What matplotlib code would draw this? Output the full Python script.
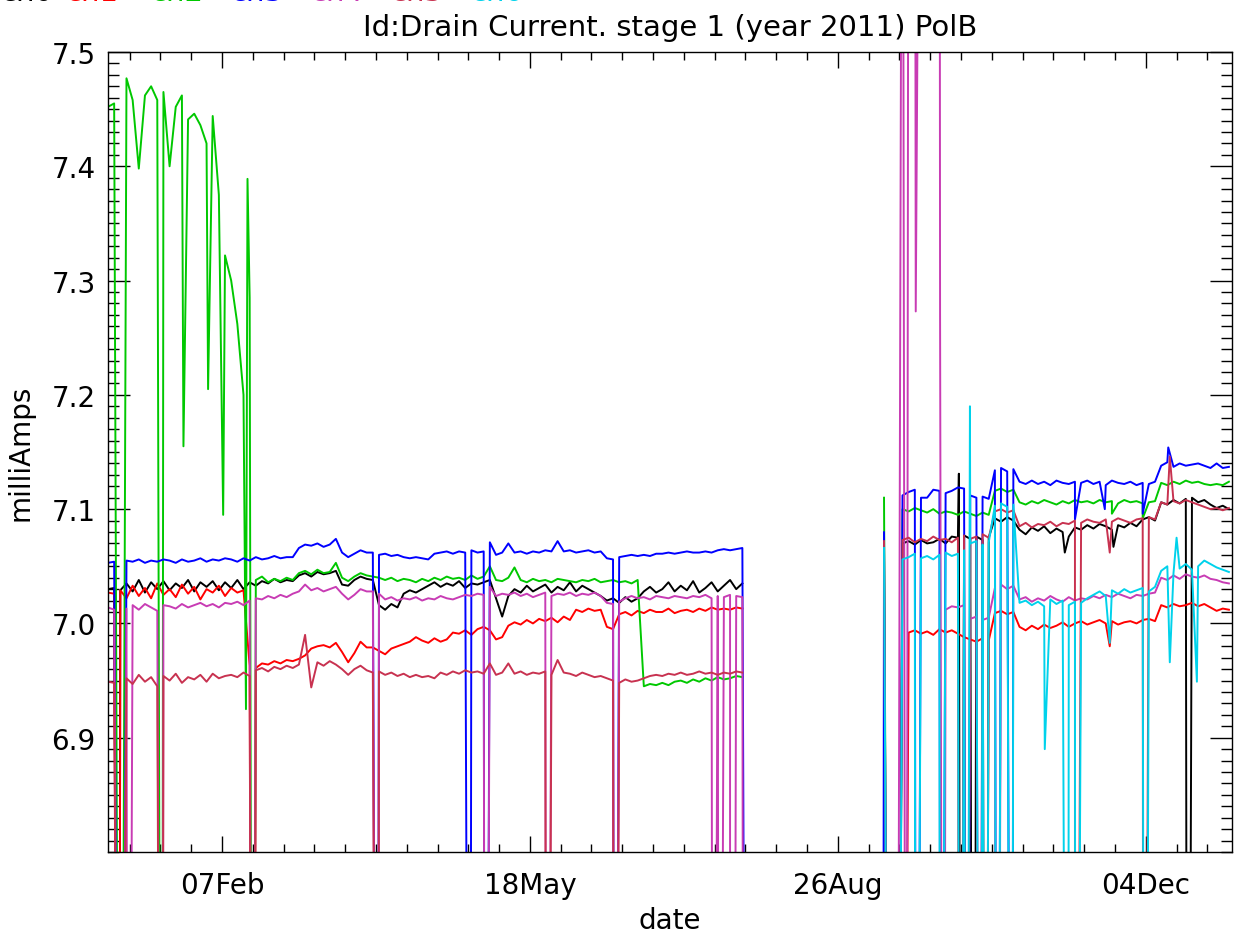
import numpy as np
import matplotlib
matplotlib.use('Agg')
import matplotlib.pyplot as plt
from matplotlib.ticker import FixedLocator, MultipleLocator

# days counted from 01 Jan 2011, values are offsets from 7.000 mA in 1/1000 mA
# -999 = dropout below the plot range, 999 = above the plot range
days1 = np.arange(0, 207, 2)
days2 = np.arange(252, 365, 2)

names = ['ch0', 'ch1', 'ch2', 'ch3', 'ch4', 'ch5', 'ch6']
colors = ['#000000', '#ff0000', '#00c800', '#0000ff', '#c83cb4', '#c83250', '#00d2eb']

black_s1 = [30, 31, 29, 35, 28, 38, 27, 36, 30, 37,
            29, 35, 31, 38, 28, 36, 32, 37, 29, 36,
            31, 38, 30, 36, 33, 37, 35, 39, 36, 38,
            37, 42, 44, 41, 45, 43, 44, 46, 34, 33,
            38, 41, 39, 38, 16, 12, 17, 14, 26, 29,
            27, 30, 33, 36, 32, 35, 33, 37, 31, 35,
            34, 36, 38, 22, 6, 24, 30, 27, 33, 28,
            31, 34, 27, 32, 29, 36, 28, 33, 30, 27,
            24, 20, 22, 18, 23, 19, 22, 28, 32, 27,
            30, 36, 28, 33, 29, 37, 27, 31, 36, 28,
            33, 38, 30, 35]
black_s2 = [-999, -999, -999, 70, 72, 69, 73, 70, 71, 74,
            70, 76, 75, 77, 74, 76, 73, 75, 92, 89,
            93, 90, 82, 78, 84, 81, 85, 79, 83, 80,
            76, 84, 82, 86, 83, 87, 85, 82, 86, 84,
            88, 85, 91, 93, 90, 106, 104, 108, 105, 109,
            110, 106, 108, 104, 101, 103, 100]
black_spikes = [(3.5, -999), (276.3, 131), (277, -999), (281, -999), (285, -999),
                (310.7, 62), (326.5, 67), (350.6, -999)]

red_s1 = [27, 26, 29, 22, 33, 24, 31, 22, 35, 25,
          30, 23, 34, 26, 32, 21, 30, 27, 33, 24,
          31, 27, 29, -37, -39, -35, -36, -33, -35, -32,
          -33, -31, -28, -22, -20, -19, -21, -17, -25, -34,
          -26, -16, -21, -21, -24, -27, -22, -20, -18, -16,
          -12, -15, -17, -13, -16, -14, -8, -9, -6, -10,
          -5, -3, -6, -14, -12, -2, 1, -1, 3, 0,
          4, 2, 5, 1, 6, 3, 12, 10, 13, 11,
          12, -3, -5, 8, 10, 7, 11, 9, 12, 10,
          10, 13, 9, 11, 12, 10, 13, 11, 14, 12,
          13, 12, 14, 13]
red_s2 = [-999, -999, -999, -999, -8, -6, -9, -7, -10, -5,
          -8, -6, -9, -12, -14, -16, -13, -15, 9, 11,
          8, 10, -3, -6, -2, -5, -1, -4, -2, 1,
          -3, 0, 2, -1, 1, 3, 0, 2, -1, 1,
          2, 0, 3, 4, 2, 16, 14, 17, 15, 16,
          18, 15, 17, 14, 11, 13, 12]
red_spikes = [(3.5, -999), (47, -999), (284.7, -999), (325.3, -20)]

green_s1 = [452, 455, -999, 477, 458, 398, 462, 470, 458, 465,
            400, 452, 462, 441, 446, 436, 420, 444, 375, 322,
            300, 262, 200, 285, 38, 41, 36, 39, 37, 40,
            38, 44, 46, 43, 47, 44, 45, 53, 40, 37,
            41, 44, 42, 41, 40, 38, 40, 37, 39, 38,
            36, 39, 37, 40, 38, 41, 39, 40, 38, 42,
            39, 41, 50, 38, 37, 40, 49, 38, 36, 39,
            37, 38, 36, 39, 38, 37, 36, 38, 37, 39,
            36, 37, 38, 36, 37, 35, 38, -55, -53, -54,
            -52, -54, -51, -50, -52, -49, -51, -48, -50, -47,
            -49, -48, -46, -47]
green_s2 = [110, -999, -999, 100, 98, 101, 99, 97, 100, 96,
            98, 97, 95, 98, 96, 94, 97, 95, 116, 118,
            115, 117, 106, 104, 107, 105, 108, 106, 104, 107,
            105, 108, 106, 107, 105, 108, 106, 107, 105, 108,
            106, 107, 105, 106, 107, 123, 121, 124, 122, 125,
            123, 124, 122, 121, 122, 121, 124]
green_spikes = [(17.5, -999), (24.5, 155), (32.5, 205), (37.4, 95), (44.8, -75),
                (45.3, 389), (47, -999), (326, 96), (336, 92)]

blue_s1 = [53, 54, -999, 55, 54, 56, 53, 55, 54, 56,
           55, 53, 56, 54, 55, 57, 54, 56, 55, 57,
           56, 54, 57, 55, 58, 56, 57, 59, 57, 58,
           58, 66, 69, 68, 70, 67, 69, 74, 62, 58,
           61, 64, 62, 62, 60, 61, 59, 60, 58, 57,
           58, 57, 56, 61, 62, 63, 61, 63, 62, 64,
           62, 63, 71, 60, 62, 70, 62, 63, 61, 63,
           62, 64, 63, 72, 63, 64, 62, 63, 64, 62,
           63, 57, 56, 58, 59, 60, 59, 60, 59, 61,
           61, 62, 61, 62, 63, 62, 62, 63, 62, 64,
           65, 64, 65, 66]
blue_s2 = [80, -999, -999, 112, 115, 117, 110, 110, 117, 116,
           114, 116, 119, 118, 112, 110, 111, 109, 134, 136,
           133, 135, 124, 122, 125, 122, 124, 121, 125, 123,
           122, 124, 123, 125, 122, 124, 121, 125, 123, 122,
           124, 121, 123, 122, 124, 138, 141, 137, 140, 138,
           139, 140, 138, 136, 140, 136, 137]
blue_spikes = [(87.5, -999), (117.5, -999), (122.5, -999), (164.5, -999),
               (207.5, -999), (251.5, -999),
               (262.5, -999), (270.5, -999), (279, -999), (283, -999), (288.7, -999),
               (293.5, -999), (314, 91), (323.7, 100), (336, 96), (344.3, 154)]

magenta_s1 = [14, 12, -999, 13, 16, 12, 17, 14, 11, 16,
              15, 13, 17, 14, 16, 18, 15, 17, 14, 18,
              17, 19, 16, 20, 22, 21, 24, 22, 25, 23,
              26, 28, 34, 29, 31, 28, 30, 32, 26, 21,
              25, 30, 28, 28, 26, 21, 23, 20, 22, 21,
              23, 20, 22, 21, 24, 22, 21, 23, 25, 24,
              26, 25, 32, 24, 26, 25, 27, 24, 26, 23,
              25, 27, 24, 26, 25, 27, 24, 26, 25, 27,
              24, 18, 17, 19, 22, 24, 22, 23, 21, 24,
              23, 22, 24, 23, 22, 24, 23, 25, 22, 24,
              23, 25, 24, 23]
magenta_s2 = [-999, -999, -999, 999, 999, 999, 999, 999, 999, 999,
              12, 15, 14, 16, 4, 6, 3, 5, 31, 34,
              30, 33, 21, 23, 19, 22, 20, 24, 21, 19,
              23, 20, 22, 21, 24, 22, 25, 23, 26, 24,
              22, 25, 24, 26, 27, 40, 38, 42, 39, 43,
              41, 40, 42, 39, 38, 36, 35]
magenta_spikes = [(6.5, -999), (17.5, -999), (47, -999), (87.5, -999), (122.5, -999),
                  (142.5, -999), (164.5, -999), (196.5, -999), (198.5, -999),
                  (202, -999), (203, -999), (206.5, -999),
                  (259.2, -999), (262.3, 273), (270.2, 270), (271.2, -999),
                  (278, -999), (283, -999), (288.6, -999)]

crimson_s1 = [-51, -52, -999, -48, -53, -45, -51, -47, -55, -46,
              -50, -44, -52, -47, -49, -45, -51, -44, -48, -46,
              -45, -47, -43, -46, -41, -39, -42, -38, -40, -37,
              -39, -36, -10, -56, -34, -37, -33, -36, -40, -45,
              -40, -37, -41, -43, -42, -45, -43, -46, -44, -47,
              -45, -47, -46, -48, -43, -45, -42, -44, -41, -43,
              -42, -44, -35, -45, -43, -35, -44, -42, -45, -43,
              -44, -42, -45, -32, -43, -44, -46, -43, -45, -47,
              -46, -48, -50, -52, -49, -51, -50, -48, -46, -45,
              -46, -44, -45, -43, -45, -44, -42, -44, -43, -45,
              -43, -44, -42, -43]
crimson_s2 = [72, -999, -999, 73, 75, 71, 74, 72, 76, 73,
              74, 71, 75, 77, 74, 76, 78, 75, 98, 100,
              97, 99, 85, 88, 84, 87, 86, 89, 85, 88,
              87, 90, 88, 91, 89, 88, 91, 89, 92, 90,
              88, 91, 92, 93, 91, 106, 104, 107, 105, 108,
              106, 104, 102, 100, 101, 99, 101]
crimson_spikes = [(17.5, -999), (47, -999), (87.5, -999), (142.5, -999), (164.5, -999),
                  (276.5, -999), (278.5, -999), (283, -999), (314, -999), (325.3, 62),
                  (336.3, -999), (344.8, 146)]

cyan_s2 = [66, -999, -999, 56, 58, 61, 57, 59, 56, 60,
           62, 59, 61, 64, 70, 72, 69, 71, 103, 105,
           102, 104, 18, 20, 16, 19, 15, 21, 17, 20,
           16, 19, 18, 22, 25, 28, 24, 29, 26, 30,
           27, 29, 31, 28, 32, 46, 50, 44, 48, 52,
           47, 50, 55, 52, 49, 47, 45]
cyan_spikes = [(262.3, -999), (270.2, -999), (276.8, -999), (278.7, -999), (279.9, 190),
               (283.2, -999), (285, -999), (288.6, -999), (293.5, -999), (304.2, -110),
               (311.7, -999), (314.2, -999), (325.3, -17), (336.7, -999), (344.8, -34),
               (347, 75), (353.6, -51)]

series = [(black_s1, black_s2, black_spikes),
          (red_s1, red_s2, red_spikes),
          (green_s1, green_s2, green_spikes),
          (blue_s1, blue_s2, blue_spikes),
          (magenta_s1, magenta_s2, magenta_spikes),
          (crimson_s1, crimson_s2, crimson_spikes),
          (None, cyan_s2, cyan_spikes)]


def build(s1, s2, spikes):
    if s1 is None:
        d = np.concatenate([[229.0], days2])
        v = np.concatenate([[np.nan], s2]).astype(float)
    else:
        d = np.concatenate([days1, [229.0], days2])
        v = np.concatenate([s1, [np.nan], s2]).astype(float)
    if spikes:
        sd, sv = zip(*spikes)
        d = np.concatenate([d, sd])
        v = np.concatenate([v, sv])
    idx = np.argsort(d, kind='stable')
    return d[idx], 7.0 + v[idx] / 1000.0


plt.rcParams['font.family'] = ['DejaVu Sans']
fig = plt.figure(figsize=(12.41, 9.37), dpi=100)
ax = fig.add_axes([108 / 1241, 1 - 853 / 937, 1124 / 1241, 800 / 937])

for (s1, s2, sp), c in zip(series, colors):
    d, v = build(s1, s2, sp)
    ax.plot(d, v, color=c, lw=1.4)

ax.set_xlim(0, 365)
ax.set_ylim(6.8, 7.5)

ax.xaxis.set_major_locator(FixedLocator([37, 137, 237, 337]))
ax.set_xticklabels(['07Feb', '18May', '26Aug', '04Dec'])
ax.xaxis.set_minor_locator(FixedLocator(np.arange(7, 365, 10)))
ax.yaxis.set_major_locator(FixedLocator([6.9, 7.0, 7.1, 7.2, 7.3, 7.4, 7.5]))
ax.set_yticklabels(['6.9', '7.0', '7.1', '7.2', '7.3', '7.4', '7.5'])
ax.yaxis.set_minor_locator(MultipleLocator(0.01))

ax.tick_params(which='both', direction='in', top=True, right=True, width=1, colors='black')
ax.tick_params(axis='y', which='major', length=15.8, labelsize=20, pad=9)
ax.tick_params(axis='y', which='minor', length=7.9)
ax.tick_params(axis='x', which='major', length=11.5, labelsize=20, pad=14)
ax.tick_params(axis='x', which='minor', length=5.8)
for s in ax.spines.values():
    s.set_linewidth(1)

ax.set_title('Id:Drain Current. stage 1 (year 2011) PolB', fontsize=21, pad=12)
ax.set_xlabel('date', fontsize=20, labelpad=5)
ax.set_ylabel('milliAmps', fontsize=20, labelpad=12)

# channel names at the very top, mostly cut off by the image edge
label_x = [0, 65, 150, 230, 310, 390, 470]
for name, c, lx in zip(names, colors, label_x):
    fig.text(lx / 1241, 1 - 1 / 937, name, color=c, fontsize=21, va='baseline')

fig.savefig('out.png', dpi=100)
